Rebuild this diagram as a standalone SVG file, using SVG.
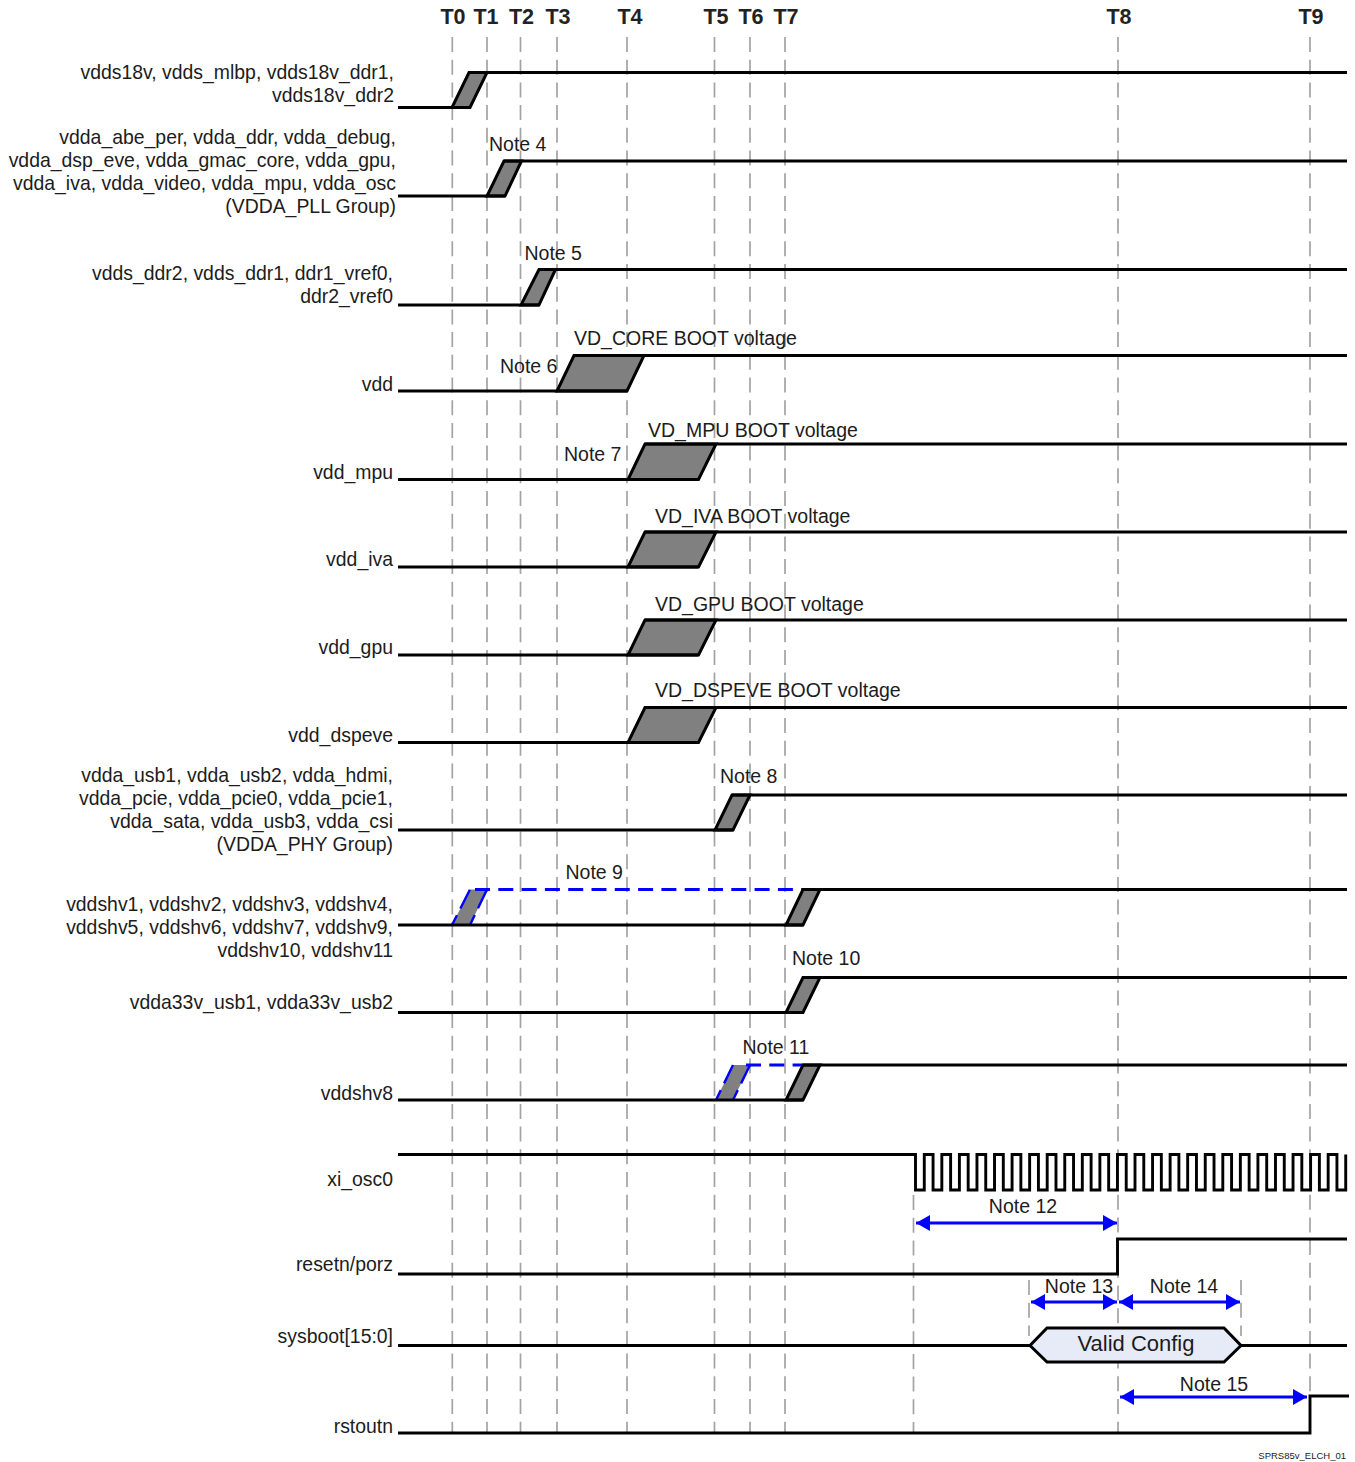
<svg xmlns="http://www.w3.org/2000/svg" width="1355" height="1462" viewBox="0 0 1355 1462">
<style>
text{font-family:"Liberation Sans",Arial,sans-serif;font-size:19.5px;fill:#1c1c1c}
.h{font-weight:bold;font-size:21.5px;text-anchor:middle;fill:#222}
.r{text-anchor:end;font-size:19.42px}
.w{fill:none;stroke:#000;stroke-width:2.9;stroke-linejoin:miter}
.ramp{fill:#808080;stroke:#000;stroke-width:3;stroke-linejoin:miter}
.bramp{fill:none;stroke:#00f;stroke-width:2.400;stroke-dasharray:11 7.500 21}
.bd{fill:none;stroke:#00f;stroke-width:2.800;stroke-dasharray:15 8.300}
.g{stroke:#a3a3a3;stroke-width:1.700;stroke-dasharray:15 7.700;fill:none}
.a{stroke:#00f;stroke-width:2.800;fill:none;marker-start:url(#hs);marker-end:url(#he)}
</style>
<defs>
<marker id="he" markerUnits="userSpaceOnUse" markerWidth="14" markerHeight="16" refX="14" refY="8" orient="auto"><path d="M0 0L14 8L0 16z" fill="#00f"/></marker>
<marker id="hs" markerUnits="userSpaceOnUse" markerWidth="14" markerHeight="16" refX="0" refY="8" orient="auto"><path d="M14 0L0 8L14 16z" fill="#00f"/></marker>
</defs>
<rect width="1355" height="1462" fill="#fff"/>
<g id="guides">
<path class="g" d="M452.300 37V1433M487 37V1433M520.500 37V1433M557 37V1433M627 37V1433M714.500 37V1433M750 37V1433M785 37V1433M1118 37V1433M1310 37V1396M913.500 1195V1433M1029 1280V1336M1241 1280V1336"/>
</g>
<g id="headers">
<text class="h" x="453" y="24">T0</text><text class="h" x="486" y="24">T1</text><text class="h" x="521.500" y="24">T2</text><text class="h" x="558" y="24">T3</text><text class="h" x="630" y="24">T4</text><text class="h" x="716" y="24">T5</text><text class="h" x="751" y="24">T6</text><text class="h" x="786" y="24">T7</text><text class="h" x="1119" y="24">T8</text><text class="h" x="1311" y="24">T9</text>
</g>
<g id="sig-vdds18v">
<text class="r" x="394" y="79">vdds18v, vdds_mlbp, vdds18v_ddr1,</text><text class="r" x="394" y="102">vdds18v_ddr2</text>
<path class="ramp" d="M452 107.500H470L487 72.500H469Z"/><path class="w" d="M398 107.500H470M469 72.500H1347"/>
</g>
<g id="sig-vdda-pll">
<text class="r" x="396" y="144">vdda_abe_per, vdda_ddr, vdda_debug,</text><text class="r" x="396" y="167">vdda_dsp_eve, vdda_gmac_core, vdda_gpu,</text><text class="r" x="396" y="190">vdda_iva, vdda_video, vdda_mpu, vdda_osc</text><text class="r" x="396" y="213">(VDDA_PLL Group)</text>
<text x="489" y="151">Note 4</text>
<path class="ramp" d="M487 196H505L521.500 161H504Z"/><path class="w" d="M398 196H505M504 161H1347"/>
</g>
<g id="sig-vdds-ddr">
<text class="r" x="393" y="280">vdds_ddr2, vdds_ddr1, ddr1_vref0,</text><text class="r" x="393" y="303">ddr2_vref0</text>
<text x="524.500" y="260">Note 5</text>
<path class="ramp" d="M521 305H539L555.500 269.500H539Z"/><path class="w" d="M398 305H539M539 269.500H1347"/>
</g>
<g id="sig-vdd">
<text class="r" x="393" y="391">vdd</text><text x="500" y="373">Note 6</text><text x="574" y="345">VD_CORE BOOT voltage</text>
<path class="ramp" d="M557 391H627L644 355.500H574Z"/><path class="w" d="M398 391H627M574 355.500H1347"/>
</g>
<g id="sig-vdd-mpu">
<text class="r" x="393" y="479">vdd_mpu</text><text x="564" y="461">Note 7</text><text x="648" y="437">VD_MPU BOOT voltage</text>
<path class="ramp" d="M628 479.500H698.500L716 444H645Z"/><path class="w" d="M398 479.500H698M645 444H1347"/>
</g>
<g id="sig-vdd-iva">
<text class="r" x="393" y="566">vdd_iva</text><text x="655" y="523">VD_IVA BOOT voltage</text>
<path class="ramp" d="M628 567H698.500L716 532H645Z"/><path class="w" d="M398 567H698M645 532H1347"/>
</g>
<g id="sig-vdd-gpu">
<text class="r" x="393" y="654">vdd_gpu</text><text x="655" y="611">VD_GPU BOOT voltage</text>
<path class="ramp" d="M628 655H698.500L716 620H645Z"/><path class="w" d="M398 655H698M645 620H1347"/>
</g>
<g id="sig-vdd-dspeve">
<text class="r" x="393" y="742">vdd_dspeve</text><text x="655" y="697">VD_DSPEVE BOOT voltage</text>
<path class="ramp" d="M628 742.500H698.500L716 707.500H645Z"/><path class="w" d="M398 742.500H698M645 707.500H1347"/>
</g>
<g id="sig-vdda-phy">
<text class="r" x="393" y="782">vdda_usb1, vdda_usb2, vdda_hdmi,</text><text class="r" x="393" y="805">vdda_pcie, vdda_pcie0, vdda_pcie1,</text><text class="r" x="393" y="828">vdda_sata, vdda_usb3, vdda_csi</text><text class="r" x="393" y="851">(VDDA_PHY Group)</text>
<text x="720" y="783">Note 8</text>
<path class="ramp" d="M715 830H733L750 795H732Z"/><path class="w" d="M398 830H733M732 795H1347"/>
</g>
<g id="sig-vddshv">
<text class="r" x="393" y="911">vddshv1, vddshv2, vddshv3, vddshv4,</text><text class="r" x="393" y="934">vddshv5, vddshv6, vddshv7, vddshv9,</text><text class="r" x="393" y="957">vddshv10, vddshv11</text>
<text x="565.500" y="879">Note 9</text>
<path d="M452 925H470L487 889.500H470Z" fill="#808080"/>
<path class="bramp" d="M452 925L470 889.500M470 925L487 889.500"/>
<path class="bd" d="M475 889.500H803"/>
<path class="ramp" d="M786 925H803L820 889.500H803Z"/><path class="w" d="M398 925H803M803 889.500H1347"/>
</g>
<g id="sig-vdda33v">
<text class="r" x="393" y="1009">vdda33v_usb1, vdda33v_usb2</text><text x="792" y="965">Note 10</text>
<path class="ramp" d="M786 1012.500H803L820 977.500H803Z"/><path class="w" d="M398 1012.500H803M803 977.500H1347"/>
</g>
<g id="sig-vddshv8">
<text class="r" x="393" y="1100">vddshv8</text><text x="742.500" y="1054">Note 11</text>
<path d="M716 1100H733L750 1065H733Z" fill="#808080"/>
<path class="bramp" d="M716 1100L733 1065M733 1100L750 1065"/>
<path class="bd" d="M746 1065H803"/>
<path class="ramp" d="M786 1100H803L820 1065H803Z"/><path class="w" d="M398 1100H803M803 1065H1347"/>
</g>
<g id="sig-xi-osc0">
<text class="r" x="393" y="1186">xi_osc0</text>
<path class="w" d="M398 1154.500H915.500
v35.500h8.780v-35.500h8.780 v35.500h8.780v-35.500h8.780 v35.500h8.780v-35.500h8.780 v35.500h8.780v-35.500h8.780
v35.500h8.780v-35.500h8.780 v35.500h8.780v-35.500h8.780 v35.500h8.780v-35.500h8.780 v35.500h8.780v-35.500h8.780
v35.500h8.780v-35.500h8.780 v35.500h8.780v-35.500h8.780 v35.500h8.780v-35.500h8.780 v35.500h8.780v-35.500h8.780
v35.500h8.780v-35.500h8.780 v35.500h8.780v-35.500h8.780 v35.500h8.780v-35.500h8.780 v35.500h8.780v-35.500h8.780
v35.500h8.780v-35.500h8.780 v35.500h8.780v-35.500h8.780 v35.500h8.780v-35.500h8.780 v35.500h8.780v-35.500h8.780
v35.500h8.780v-35.500h8.780 v35.500h8.780v-35.500h8.780 v35.500h8.780v-35.500h8.780 v35.500h8.780v-35.500h8.780
v35.500h8.780v-35.500"/>
</g>
<g id="sig-resetn">
<text class="r" x="393" y="1271">resetn/porz</text>
<path class="w" d="M398 1274H1117.500V1239H1347"/>
</g>
<g id="sig-sysboot">
<text class="r" x="393" y="1343">sysboot[15:0]</text>
<path class="w" d="M398 1345.500H1030M1241 1345.500H1347"/>
<path d="M1030 1345.500L1047 1328H1224L1241 1345.500L1224 1362H1047Z" fill="#e6ebf7" stroke="#000" stroke-width="3"/>
<text x="1136" y="1351" text-anchor="middle" style="font-size:22px">Valid Config</text>
</g>
<g id="sig-rstoutn">
<text class="r" x="393" y="1433">rstoutn</text>
<path class="w" d="M398 1433H1310V1396H1349"/>
</g>
<g id="connectors">
<path class="a" d="M916 1223H1117"/>
<path class="a" d="M1031 1302H1117"/>
<path class="a" d="M1119 1302H1240"/>
<path class="a" d="M1120 1397H1307"/>
</g>
<g id="notes">
<text x="1023" y="1213" text-anchor="middle">Note 12</text>
<text x="1079" y="1293" text-anchor="middle">Note 13</text>
<text x="1184" y="1293" text-anchor="middle">Note 14</text>
<text x="1214" y="1391" text-anchor="middle">Note 15</text>
<text x="1346" y="1459" text-anchor="end" style="font-size:9.500px">SPRS85v_ELCH_01</text>
</g>
</svg>
